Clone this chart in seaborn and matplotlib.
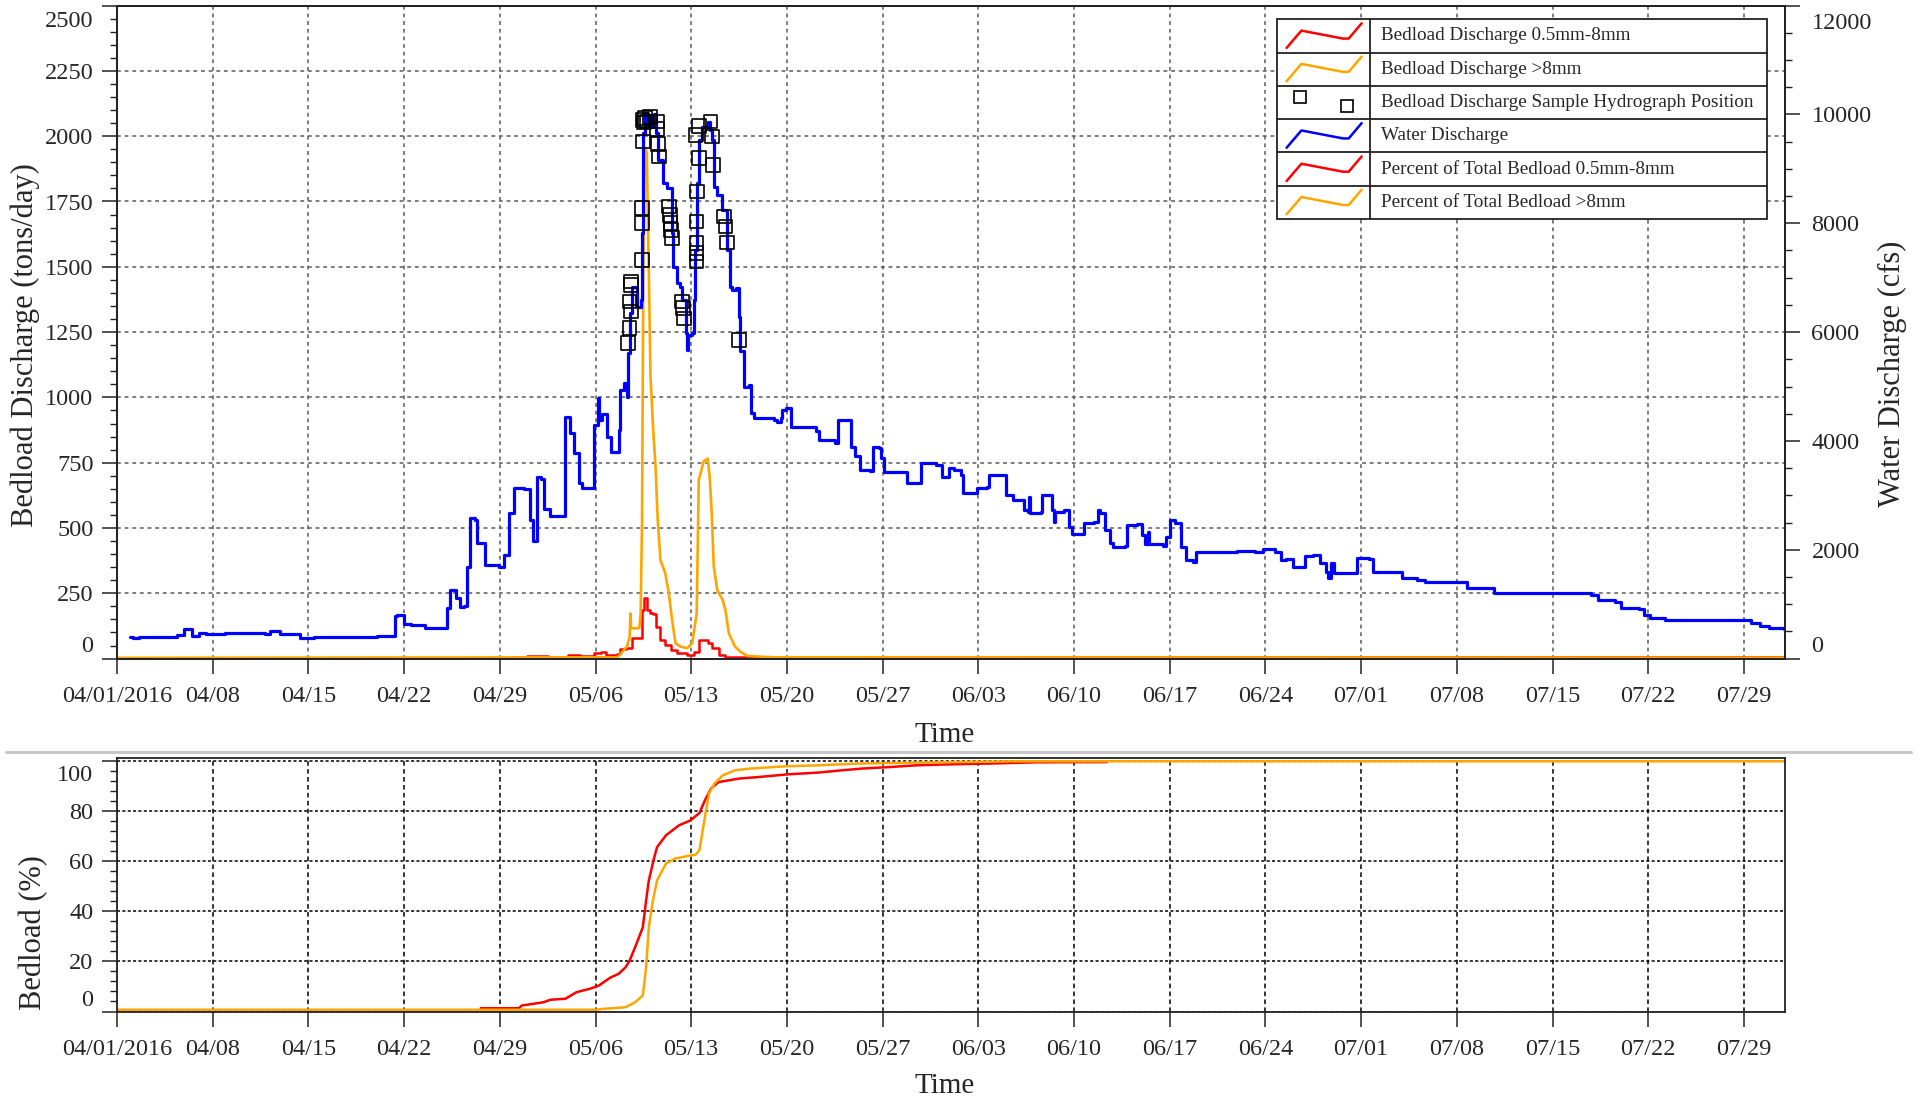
import matplotlib
matplotlib.use("Agg")
import numpy as np
import pandas as pd
import matplotlib.pyplot as plt
import seaborn as sns
from matplotlib.ticker import MultipleLocator
from matplotlib.lines import Line2D
from matplotlib.patches import Rectangle
from matplotlib.transforms import ScaledTranslation

# ---- data (days after 04/01/2016) ----
start = pd.Timestamp("2016-04-01")

water_day = [0.98, 1.2, 1.6, 4.4, 4.93, 5.49, 5.98, 6.5, 7.93, 10.86, 11.17, 11.9, 13.42, 13.9, 14.4,
             17.8, 19.0, 20.0, 20.3, 20.5, 20.97, 21.5, 22.56, 24.02, 24.15, 24.39, 24.76, 25.1, 25.4,
             25.6, 25.85, 26.2, 26.34, 26.95, 27.93, 28.3, 28.66, 29.02, 29.75, 30.2, 30.4, 30.65,
             30.75, 31.0, 31.2, 31.7, 32.7, 32.8, 33.1, 33.4, 33.8, 34.0, 34.8, 34.9, 35.15, 35.25,
             35.5, 35.85, 36.1, 36.6, 36.7, 36.8, 37.07, 37.3, 37.4, 37.55, 37.68, 37.9, 38.05, 38.2,
             38.3, 38.4, 38.5, 38.65, 38.8, 38.95, 39.1, 39.3, 39.45, 39.6, 39.9, 40.2, 40.6, 40.7,
             40.97, 41.15, 41.3, 41.6, 41.7, 41.8, 42.07, 42.2, 42.3, 42.4, 42.55, 42.8, 43.2, 43.4,
             43.5, 43.65, 43.9, 44.1, 44.27, 44.6, 44.87, 45.0, 45.3, 45.5, 45.6, 45.85, 45.97, 46.2,
             46.35, 46.6, 47.5, 48.04, 48.3, 48.55, 48.65, 48.9, 49.25, 49.3, 51.1, 51.33, 52.55,
             52.7, 53.3, 53.65, 54.0, 54.33, 55.1, 55.3, 55.7, 55.85, 56.1, 57.55, 57.8, 58.6, 58.77,
             59.87, 60.36, 60.84, 61.2, 61.7, 61.9, 62.67, 62.9, 63.65, 63.77, 64.87, 65.05, 65.5,
             66.35, 66.6, 66.7, 66.75, 67.0, 67.55, 67.65, 68.3, 68.4, 68.5, 68.6, 69.25, 69.6, 69.87,
             70.6, 70.7, 71.45, 71.75, 71.9, 72.3, 72.6, 72.83, 73.7, 73.9, 74.57, 75.0, 75.2, 75.4,
             75.5, 76.5, 76.7, 77.0, 77.4, 77.8, 78.2, 78.7, 78.9, 81.9, 83.2, 83.85, 84.7, 85.15,
             85.5, 86.0, 86.7, 86.9, 87.5, 87.96, 88.4, 88.6, 88.8, 89.0, 90.6, 90.7, 91.6, 91.9,
             93.35, 94.0, 95.1, 95.7, 97.9, 98.76, 100.5, 100.7, 107.8, 108.3, 109.6, 110.0, 111.3,
             111.7, 112.15, 113.2, 118.85, 119.5, 120.15, 120.8, 121.9]
water_cfs = [402, 373, 400, 434, 538, 410, 476, 450, 476, 450, 507, 450, 384, 373, 402,
             402, 412, 412, 783, 801, 630, 618, 557, 557, 924, 1261, 1108, 954, 960,
             1689, 2578, 2551, 2119, 1720, 1678, 1904, 2670, 3130, 3111, 2547, 2160, 2160,
             3340, 3300, 2750, 2620, 2620, 4446, 4141, 3773, 3222, 3130, 3130, 4294, 4790, 4386,
             4490, 4078, 3803, 3803, 4202, 4937, 5060, 4814, 5611, 6347, 6836, 6836, 6468, 6468,
             6591, 7817, 9655, 10022, 9780, 9950, 9800, 10000, 9655, 9164, 8736, 8650, 7817, 7204,
             6898, 6836, 6591, 5979, 5672, 5948, 5979, 6591, 7510, 8736, 9532, 9777, 9869, 9716,
             9532, 8674, 8521, 8521, 8245, 7510, 6836, 6775, 6805, 6284, 5650, 5000, 4997, 5029,
             4508, 4417, 4417, 4386, 4350, 4417, 4569, 4600, 4600, 4251, 4190, 4018, 3957,
             4386, 4386, 3895, 3723, 3467, 3440, 3895, 3865, 3681, 3436, 3436, 3222, 3222, 3590,
             3559, 3344, 3498, 3470, 3375, 3038, 3038, 3130, 3161, 3375, 3375, 3007, 2915,
             2731, 2700, 2976, 2670, 2670, 2700, 3007, 3007, 2731, 2517, 2700, 2731, 2424, 2290,
             2290, 2487, 2517, 2731, 2670, 2364, 2119, 2057, 2070, 2456, 2470, 2272, 2107, 2333,
             2100, 2076, 2241, 2548, 2487, 2057, 1812, 1781, 1965, 1975, 1965, 2009, 1965, 1812,
             1830, 1689, 1689, 1886, 1904, 1751, 1597, 1487, 1751, 1567, 1567, 1843, 1830, 1597,
             1597, 1476, 1445, 1414, 1414, 1292, 1292, 1200, 1170, 1077, 1046, 924, 905,
             801, 740, 709, 709, 660, 599, 556, 543]

fine_day = [26.0, 28.8, 30.0, 31.5, 33.0, 33.9, 34.9, 35.4, 35.8, 36.6, 36.8, 37.2, 37.7, 38.2, 38.4,
            38.58, 38.73, 39.02, 39.2, 39.45, 39.75, 40.1, 40.5, 40.97, 41.7, 42.2, 42.55, 42.8,
            43.2, 43.5, 44.0, 44.5, 46.0, 122.0]
fine_tons = [3, 8, 11, 8, 14, 10, 20, 26, 14, 18, 36, 40, 78, 78, 186,
             231, 186, 173, 169, 122, 71, 52, 32, 20, 14, 26, 71, 73,
             58, 40, 14, 7, 5, 3]

coarse_day = [0.0, 36.5, 36.7, 37.3, 37.5, 37.55, 37.6, 38.2, 38.3, 38.4, 38.5, 38.6, 38.75, 38.9,
              39.02, 39.22, 39.39, 39.55, 39.75, 40.1, 40.36, 40.6, 40.85, 41.2, 41.7, 42.07, 42.4,
              42.55, 42.68, 42.9, 43.2, 43.35, 43.5, 43.65, 43.9, 44.3, 44.5, 44.75, 45.2, 45.6,
              46.1, 48.0, 122.0]
coarse_tons = [3, 5, 10, 46, 84, 173, 116, 116, 173, 518, 1500, 1955, 1940, 1475,
               1080, 875, 735, 530, 377, 327, 250, 148, 59, 46, 40, 59, 173,
               684, 709, 754, 766, 696, 556, 352, 263, 224, 186, 97, 46, 26,
               10, 5, 3]

sample_day = [37.36, 37.48, 37.6, 37.5, 37.6, 37.6, 38.41, 38.41, 38.41, 38.49, 38.53, 38.78, 39.51,
              39.51, 39.58, 39.63, 40.36, 40.43, 40.48, 40.53, 40.6, 41.34, 41.41, 41.46, 42.44,
              42.39, 42.39, 42.39, 42.39, 42.55, 42.31, 42.55, 43.41, 43.53, 43.61, 44.38, 44.5,
              44.63, 45.48, 38.45, 38.6, 39.0]
sample_cfs = [5795, 6071, 6376, 6560, 6867, 6928, 7326, 8001, 8276, 9501, 9850, 9869, 9869,
              9728, 9453, 9225, 8306, 8153, 8001, 7878, 7725, 6560, 6438, 6254, 8582,
              8030, 7633, 7449, 7295, 9196, 9624, 9789, 9869, 9593, 9072, 8122, 7938,
              7644, 5856, 9900, 9930, 9950]

pct_fine_day = [26.6, 29.4, 29.6, 30.0, 31.2, 31.7, 32.8, 33.6, 34.6, 35.25, 36.07, 36.7, 37.2, 37.5,
                38.0, 38.46, 38.7, 38.9, 39.24, 39.5, 40.15, 41.1, 41.95, 42.3, 42.6, 43.0, 43.45,
                44.0, 45.5, 46.9, 49.1, 51.3, 53.0, 54.5, 56.5, 58.5, 61.0, 63.7, 67.2, 72.4]
pct_fine = [1.3, 1.3, 2.4, 2.7, 3.7, 4.7, 5.1, 7.7, 9.1, 10.4, 13.5, 15.1, 17.7, 20.4,
            27.1, 33.7, 44.4, 52.4, 60.4, 65.7, 70.4, 74.4, 76.4, 78.0, 79.3, 84.4, 89.1,
            91.7, 93.1, 93.7, 94.8, 95.5, 96.4, 97.1, 97.7, 98.4, 98.8, 99.1, 99.6, 99.7]

pct_coarse_day = [0.0, 35.0, 35.5, 37.2, 37.9, 38.46, 38.7, 38.9, 39.2, 39.5, 40.15, 40.8, 41.95,
                  42.3, 42.6, 43.0, 43.3, 43.7, 44.3, 45.2, 46.3, 48.9, 51.3, 54.2, 58.5, 66.0, 122.0]
pct_coarse = [0.7, 0.7, 1.0, 1.7, 3.7, 6.4, 17.7, 33.7, 44.4, 52.4, 59.1, 61.1, 62.4,
              62.6, 64.4, 77.7, 87.1, 91.1, 94.4, 96.4, 97.1, 98.0, 98.4, 99.1, 99.5, 100.0, 100.0]

tick_day = [0, 7, 14, 21, 28, 35, 42, 49, 56, 63, 70, 77, 84, 91, 98, 105, 112, 119]
tick_labels = ["04/01/2016", "04/08", "04/15", "04/22", "04/29", "05/06", "05/13", "05/20", "05/27",
               "06/03", "06/10", "06/17", "06/24", "07/01", "07/08", "07/15", "07/22", "07/29"]

legend_labels = ["Bedload Discharge 0.5mm-8mm", "Bedload Discharge >8mm",
                 "Bedload Discharge Sample Hydrograph Position", "Water Discharge",
                 "Percent of Total Bedload 0.5mm-8mm", "Percent of Total Bedload >8mm"]


def to_dates(days):
    return start + pd.to_timedelta(np.asarray(days, dtype=float), unit="D")


RED = "#ff0000"
ORANGE = "#ffa500"
BLUE = "#0000ff"
INK = "#222222"

sns.set_style("ticks")
plt.rcParams["font.family"] = ["Liberation Serif", "DejaVu Serif"]

W, H = 1927, 1102
fig = plt.figure(figsize=(W / 100, H / 100), dpi=100)
ax = fig.add_axes([117 / W, 1 - 658.6 / H, 1668 / W, 653 / H])
ax2 = ax.twinx()
axb = fig.add_axes([117 / W, 1 - 1011.5 / H, 1668 / W, 253.2 / H])

# ---- top panel ----
sns.lineplot(x=to_dates(fine_day), y=fine_tons, ax=ax, color=RED, lw=1.8,
             estimator=None, sort=False, legend=False, drawstyle="steps-post")
sns.lineplot(x=to_dates(coarse_day), y=coarse_tons, ax=ax, color=ORANGE, lw=1.9,
             estimator=None, sort=False, legend=False)
sns.lineplot(x=to_dates(water_day), y=water_cfs, ax=ax2, color=BLUE, lw=2.3,
             estimator=None, sort=False, legend=False, drawstyle="steps-post")
sns.scatterplot(x=to_dates(sample_day), y=sample_cfs, ax=ax2, marker="s", s=95,
                edgecolor="black", linewidth=1.2, legend=False, zorder=5)
ax2.collections[-1].set_facecolor("none")

xmin, xmax = start, start + pd.Timedelta(days=122)
ticks = to_dates(tick_day)

for a in (ax, axb):
    a.set_xlim(xmin, xmax)
    a.set_xticks(ticks)
    a.set_xticklabels(tick_labels)
    for s in a.spines.values():
        s.set_color(INK)
        s.set_linewidth(1.3)
    a.tick_params(axis="both", which="major", direction="out", length=11, width=1.1,
                  labelsize=17.5, pad=6, color=INK)
    a.tick_params(axis="x", which="major", pad=9)
    a.tick_params(axis="y", which="minor", direction="out", length=5, width=1.0, color=INK)
for s in ax2.spines.values():
    s.set_color(INK)
    s.set_linewidth(1.3)

ax.set_ylim(0, 2500)
ax.set_yticks(np.arange(0, 2501, 250))
ax.yaxis.set_minor_locator(MultipleLocator(50))
ax2.set_ylim(0, 12000)
ax2.set_yticks(np.arange(0, 12001, 2000))
ax2.yaxis.set_minor_locator(MultipleLocator(500))
ax2.tick_params(axis="y", which="major", direction="out", length=11, width=1.1,
                labelsize=17.5, pad=8, color=INK)
ax2.tick_params(axis="y", which="minor", direction="out", length=5, width=1.0, color=INK)

ax.grid(True, which="major", color="#5a5a5a", linestyle=(0, (2.5, 2.5)), linewidth=1.1)
ax2.grid(False)

ax.set_xlabel("Time", fontsize=21)
ax.xaxis.label.set_va("center")
ax.xaxis.set_label_coords(0.496, -0.117)
ax.set_ylabel("Bedload Discharge (tons/day)", fontsize=22)
ax.yaxis.label.set_va("center")
ax.yaxis.set_label_coords(-0.0552, 0.48)
ax2.set_ylabel("Water Discharge (cfs)", fontsize=22, rotation=90)
ax2.yaxis.label.set_va("center")
ax2.yaxis.set_label_coords(1.0647, 0.436)

# ---- bottom panel ----
sns.lineplot(x=to_dates(pct_fine_day), y=pct_fine, ax=axb, color=RED, lw=1.8,
             estimator=None, sort=False, legend=False)
sns.lineplot(x=to_dates(pct_coarse_day), y=pct_coarse, ax=axb, color=ORANGE, lw=1.8,
             estimator=None, sort=False, legend=False)
axb.set_ylim(0, 101.2)
axb.set_yticks(np.arange(0, 101, 20))
axb.yaxis.set_minor_locator(MultipleLocator(4))
axb.grid(True, axis="y", color="black", linestyle=(0, (2, 1.5)), linewidth=1.1)
axb.grid(True, axis="x", color="black", linestyle=(0, (3, 2.2)), linewidth=1.1)
axb.set_xlabel("Time", fontsize=21)
axb.xaxis.label.set_va("center")
axb.xaxis.set_label_coords(0.496, -0.296)
axb.set_ylabel("Bedload (%)", fontsize=22)
axb.yaxis.label.set_va("center")
axb.yaxis.set_label_coords(-0.0498, 0.31)

# separator between panels
fig.add_artist(Line2D([6 / W, 1911 / W], [1 - 752 / H, 1 - 752 / H], color="#c8c8c8", lw=2.2))


# ---- table-style legend ----
def fx(px):
    return px / W


def fy(py):
    return 1 - py / H


lx0, lx1, ldiv, ly0, row_h = 1277.3, 1766.7, 1370.0, 19.3, 33.28
fig.add_artist(Rectangle((fx(lx0), fy(ly0 + 6 * row_h)), fx(lx1) - fx(lx0), fy(ly0) - fy(ly0 + 6 * row_h),
                         transform=fig.transFigure, facecolor="white", edgecolor=INK, lw=1.3, zorder=3))
fig.add_artist(Line2D([fx(ldiv), fx(ldiv)], [fy(ly0), fy(ly0 + 6 * row_h)], color=INK, lw=1.3, zorder=4))
zig_u = [0.10, 0.26, 0.71, 0.77, 0.91]
zig_v = [0.14, 0.66, 0.42, 0.42, 0.88]
handle_colors = [RED, ORANGE, None, BLUE, RED, ORANGE]
cw = ldiv - lx0
for r, (lab, col) in enumerate(zip(legend_labels, handle_colors)):
    top = ly0 + r * row_h
    if r > 0:
        fig.add_artist(Line2D([fx(lx0), fx(lx1)], [fy(top), fy(top)], color=INK, lw=1.3, zorder=4))
    if col is None:
        for u, v in [(0.24, 0.68), (0.75, 0.39)]:
            fig.add_artist(Line2D([fx(lx0 + u * cw)], [fy(top + row_h * (1 - v))], marker="s", ms=8.5,
                                  mfc="none", mec="black", mew=1.2, ls="none", zorder=5))
    else:
        fig.add_artist(Line2D([fx(lx0 + u * cw) for u in zig_u],
                              [fy(top + row_h * (1 - v)) for v in zig_v], color=col, lw=1.8, zorder=5))
    fig.text(fx(1381), fy(top + row_h / 2), lab, fontsize=13.8, va="center", ha="left", zorder=6)


# end labels of the y axes sit inside the frame, as in the original software
def nudge(axis_obj, lo_val, hi_val, up_px, down_px):
    for t in axis_obj.get_major_ticks():
        loc = t.get_loc()
        if loc is None:
            continue
        if np.isclose(loc, lo_val):
            shift = ScaledTranslation(0, up_px / 100, fig.dpi_scale_trans)
        elif np.isclose(loc, hi_val):
            shift = ScaledTranslation(0, -down_px / 100, fig.dpi_scale_trans)
        else:
            continue
        t.label1.set_transform(t.label1.get_transform() + shift)
        t.label2.set_transform(t.label2.get_transform() + shift)


fig.canvas.draw()
nudge(ax.yaxis, 0, 2500, 15, 13)
nudge(ax2.yaxis, 0, 12000, 15, 15)
nudge(axb.yaxis, 0, 100, 14, 12)

fig.savefig("out.png", dpi=100)
